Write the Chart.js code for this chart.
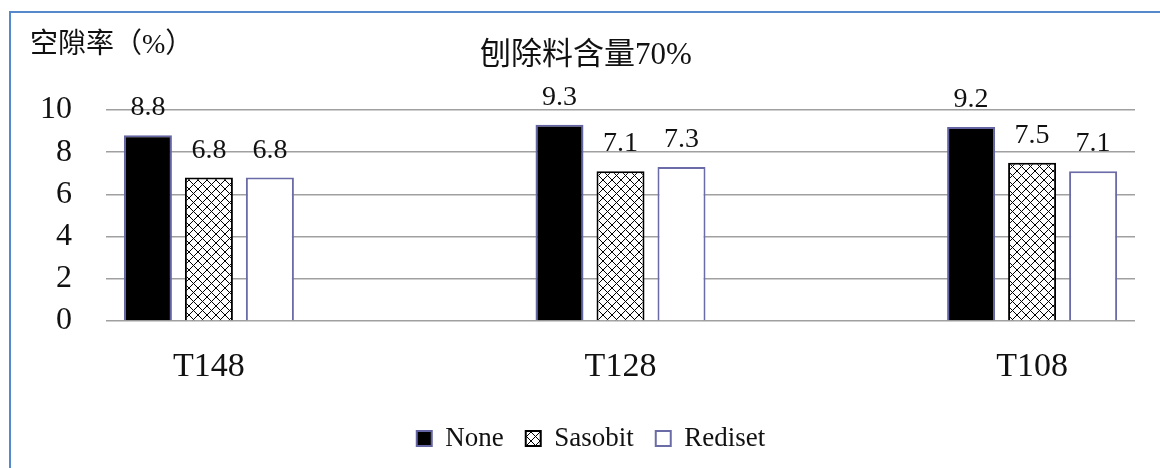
<!DOCTYPE html>
<html>
<head>
<meta charset="utf-8">
<script src="https://cdn.jsdelivr.net/npm/chart.js@4.4.1/dist/chart.umd.min.js"></script>
<style>
  html, body { margin: 0; padding: 0; background: #fff; }
  #wrap { position: relative; width: 1160px; height: 468px; overflow: hidden; background: #fff; }
  #c { position: absolute; left: 0; top: 0; }
  #frame { position: absolute; left: 9px; top: 11px; width: 1200px; height: 520px;
           border-left: 2px solid #5688cc; border-top: 2px solid #5688cc; pointer-events: none; }
</style>
</head>
<body>
<div id="wrap">
  <canvas id="c" width="1160" height="468"></canvas>
  <div id="frame"></div>
</div>
<script>
// Void ratio by mix, 70% reclaimed material content
const categories = ['T148', 'T128', 'T108'];
const seriesNames = ['None', 'Sasobit', 'Rediset'];
const noneValues = [8.8, 9.3, 9.2];
const sasobitValues = [6.8, 7.1, 7.5];
const redisetValues = [6.8, 7.3, 7.1];
const yTicks = [0, 2, 4, 6, 8, 10];
const chartTitle = '刨除料含量70%';
const yAxisTitle = '空隙率（%）';

const SERIF = '"Liberation Serif", "Times New Roman", serif';
const CJK = '"Liberation Serif", "Noto Sans CJK SC", "Noto Sans CJK TC", serif';
const INK = '#111';

// Cross-hatched fill for the Sasobit bars
function crossHatch() {
  const s = 9;
  const tile = document.createElement('canvas');
  tile.width = s; tile.height = s;
  const g = tile.getContext('2d');
  g.fillStyle = '#fff';
  g.fillRect(0, 0, s, s);
  g.strokeStyle = '#000';
  g.lineWidth = 1;
  g.beginPath();
  g.moveTo(-1, -1); g.lineTo(s + 1, s + 1);
  g.moveTo(s + 1, -1); g.lineTo(-1, s + 1);
  g.stroke();
  return g.createPattern(tile, 'repeat');
}

const toPoints = vals => vals.map((v, i) => ({ x: i, y: v }));

// Value labels above each bar
const valueLabels = {
  id: 'valueLabels',
  afterDatasetsDraw(chart) {
    const ctx = chart.ctx;
    ctx.save();
    ctx.font = '28px ' + SERIF;
    ctx.fillStyle = INK;
    ctx.textAlign = 'center';
    ctx.textBaseline = 'alphabetic';
    chart.data.datasets.forEach((ds, i) => {
      chart.getDatasetMeta(i).data.forEach((bar, j) => {
        ctx.fillText(ds.data[j].y.toFixed(1), bar.x, bar.y - 20);
      });
    });
    ctx.restore();
  }
};

// Chart title and the horizontal y-axis caption
const captions = {
  id: 'captions',
  afterDraw(chart) {
    const ctx = chart.ctx;
    ctx.save();
    ctx.fillStyle = INK;
    ctx.textBaseline = 'middle';
    ctx.font = '28px ' + CJK;
    ctx.textAlign = 'left';
    ctx.fillText(yAxisTitle, 30, 46);
    ctx.font = '31px ' + CJK;
    ctx.textAlign = 'center';
    ctx.fillText(chartTitle, 586, 56);
    ctx.restore();
  }
};

new Chart(document.getElementById('c'), {
  type: 'bar',
  data: {
    datasets: [
      { label: seriesNames[0], data: toPoints(noneValues),
        backgroundColor: '#000', borderColor: '#6464a2', borderWidth: 2 },
      { label: seriesNames[1], data: toPoints(sasobitValues),
        backgroundColor: crossHatch(), borderColor: '#000', borderWidth: 2 },
      { label: seriesNames[2], data: toPoints(redisetValues),
        backgroundColor: '#fff', borderColor: '#6b6ba8', borderWidth: 2 }
    ]
  },
  options: {
    responsive: false,
    animation: false,
    devicePixelRatio: 1,
    categoryPercentage: 0.4446,
    barPercentage: 0.787,
    layout: { padding: { top: 110, left: 28, right: 6, bottom: 6 } },
    plugins: {
      legend: {
        position: 'bottom',
        labels: {
          boxWidth: 15, boxHeight: 15, padding: 22,
          color: INK, font: { family: SERIF, size: 27 }
        }
      },
      tooltip: { enabled: false },
      title: { display: false }
    },
    scales: {
      x: {
        type: 'linear',
        offset: false,
        min: -0.25,
        max: 2.25,
        grid: { display: false },
        border: { display: false },
        afterBuildTicks: s => { s.ticks = categories.map((_, i) => ({ value: i })); },
        afterFit: s => { s.height = 82; },
        ticks: {
          autoSkip: false,
          maxRotation: 0,
          padding: 18,
          color: INK,
          font: { family: SERIF, size: 34 },
          callback: v => categories[v]
        }
      },
      y: {
        min: yTicks[0],
        max: yTicks[yTicks.length - 1],
        afterBuildTicks: s => { s.ticks = yTicks.map(v => ({ value: v })); },
        afterFit: s => { s.width = 78; },
        grid: { color: '#a0a0a0', lineWidth: 1.5, drawTicks: false },
        border: { display: false },
        ticks: {
          autoSkip: false,
          padding: 34,
          color: INK,
          font: { family: SERIF, size: 32 }
        }
      },
      // blank margin on the right of the plot
      yRight: {
        position: 'right',
        display: true,
        min: 0,
        max: 10,
        grid: { display: false },
        border: { display: false },
        ticks: { display: false },
        afterFit: s => { s.width = 19; }
      }
    }
  },
  plugins: [valueLabels, captions]
});
</script>
</body>
</html>
